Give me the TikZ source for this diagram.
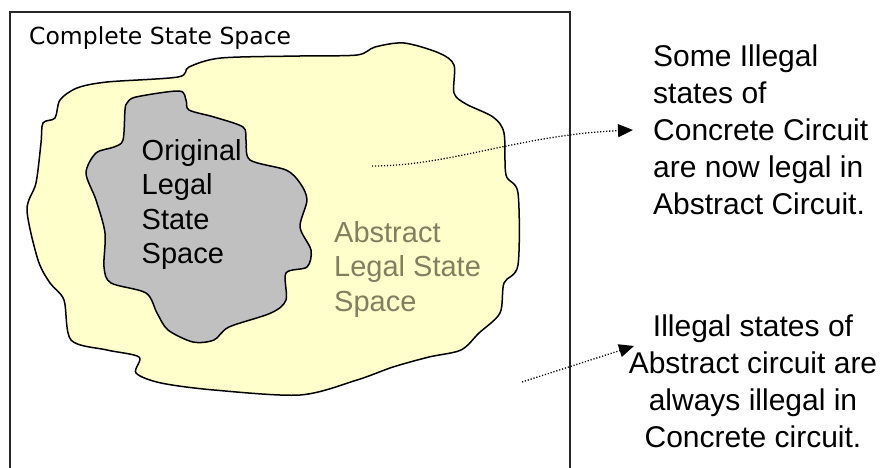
\documentclass[tikz,border=0pt]{standalone}
\usepackage{fontspec}
\setmainfont{Liberation Sans}
\newfontfamily\verdana{DejaVu Sans}
\usetikzlibrary{arrows.meta}

\definecolor{paleyellow}{RGB}{255,255,204}
\definecolor{blobgray}{RGB}{192,192,192}
\definecolor{olivetext}{RGB}{128,128,96}

\begin{document}
\begin{tikzpicture}[x=1pt, y=-1pt,
    blob/.style = {draw, line width=1.5pt, line join=round},
    region/.style = {inner sep=0, align=left, anchor=north west, font=\fontsize{29}{34.5}\selectfont},
    note/.style = {inner sep=0, font=\fontsize{30}{37}\selectfont},
    pointer/.style = {line width=1.3pt, dash pattern=on 1.2pt off 1.8pt, -{Triangle[length=15pt,width=13pt]}}]
        \useasboundingbox (0,0) rectangle (891,468);
        \fill[white] (0,0) rectangle (891,468);

        \draw[line width=1.5pt, black!85] (10,470) -- (10,12) -- (570,12) -- (570,470);

        \draw[blob, fill=paleyellow] plot[smooth cycle, tension=0.5] coordinates {
            (55,118) (60,100) (77,88) (107,82) (178,77) (189,67) (221,58) (300,56)
            (357,55) (375,47) (404,43) (439,53) (454,65) (454,93) (466,104) (493,117)
            (504,133) (506,175) (518,193) (518,265) (504,283) (500,313) (479,333)
            (461,350) (429,357) (393,367) (357,380) (300,395) (214,390) (161,383)
            (136,373) (139,357) (107,350) (71,340) (64,300) (50,283) (38,260)
            (27,210) (36,183) (41,143) (43,123)};
        \draw[blob, fill=blobgray] plot[smooth cycle, tension=0.5] coordinates {
            (127,103) (136,97) (179,91) (186,100) (189,110) (214,117) (243,127)
            (246,140) (250,160) (286,170) (300,183) (307,200) (300,227) (311,250)
            (307,267) (286,273) (286,300) (271,313) (229,327) (214,340) (193,342)
            (168,330) (157,313) (146,293) (111,283) (104,267) (105,233) (96,200)
            (86,173) (96,153) (114,147) (123,140) (125,110)};

        \node[inner sep=0, anchor=base west, font=\verdana\fontsize{23.5}{28}\selectfont] at (29,45) (whole) {Complete State Space};
        \node[region] at (141.5,139) (original) {Original\\Legal\\State\\Space};
        \node[region, text=olivetext] at (334,221) (abstract) {Abstract\\Legal State\\Space};

        \node[note, align=left, anchor=west, inner xsep=20pt] at (633,130) (noteA) {Some Illegal\\states of\\Concrete Circuit\\are now legal in\\Abstract Circuit.};
        \node[note, align=center, anchor=north] at (753,315) (noteB) {Illegal states of\\Abstract circuit are\\always illegal in\\Concrete circuit.};

        \coordinate (srcA) at (372,166);
        \coordinate (srcB) at (522,382);
        \coordinate (tipB) at (634,346);

        \draw[pointer] (srcA) .. controls (450,166) and (520,135) .. (noteA.west);
        \draw[pointer] (srcB) -- (tipB);
\end{tikzpicture}
\end{document}
